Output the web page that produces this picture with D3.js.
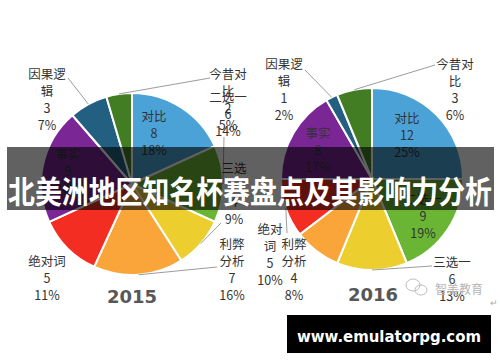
<!DOCTYPE html>
<html>
<head>
<meta charset="utf-8">
<script src="https://cdn.jsdelivr.net/npm/d3@7"></script>
<style>
  html, body { margin: 0; padding: 0; background: #fff; }
</style>
</head>
<body>
<div id="chart"></div>
<script>
// Data
const categories = ['对比', '二选一', '三选一', '利弊分析', '绝对词', '事实', '因果逻辑', '今昔对比'];
const values2015 = [8, 6, 4, 7, 5, 9, 3, 2];
const values2016 = [12, 9, 6, 4, 5, 8, 1, 3];
const years = ['2015', '2016'];
const sliceColors = ['#4ba2d6', '#6ab634', '#eccf2f', '#faa53a', '#f42d22', '#7a2795', '#225f80', '#427d24'];
const title = '北美洲地区知名杯赛盘点及其影响力分析';
const footer = 'www.emulatorpg.com';

// Layout of each pie: center, label spots (x, first line y, chars per line), leader anchors
const pies = [
    {
        year: years[0], values: values2015, cx: 132, cy: 184,
        labels: [
            [154, 115, 2], [228, 96, 3], [234, 167, 2], [232, 243, 2],
            [47, 260, 3], [68, 153, 2], [47, 73, 3], [228, 73, 3]
        ],
        leaders: [null, [224, 137], [221, 223], [217, 267], null, null, [68, 78], [210, 78]],
        yearPos: [132, 296]
    },
    {
        year: years[1], values: values2016, cx: 372, cy: 179,
        labels: [
            [407, 117, 2], [423, 198, 3], [452, 261, 3], [294, 243, 2],
            [270, 228, 2], [318, 132, 2], [284, 63, 3], [455, 63, 3]
        ],
        leaders: [null, null, [432, 266], null, [287, 233], null, [305, 70], [435, 65]],
        yearPos: [373, 294]
    }
];

const W = 500, H = 362, R = 91, lineH = 17;
const labelFont = '"Noto Sans CJK SC", "Noto Sans", sans-serif';

const svg = d3.select('#chart')
    .append('svg')
    .attr('width', W)
    .attr('height', H);

const color = d3.scaleOrdinal().domain(categories).range(sliceColors);
const pie = d3.pie().sort(null).value(d => d.value);
const arc = d3.arc().innerRadius(0).outerRadius(R);
const edge = d3.arc().innerRadius(R).outerRadius(R);

pies.forEach(p => {
    const data = categories.map((c, i) => ({ name: c, value: p.values[i] }));
    const total = d3.sum(p.values);
    const arcs = pie(data);

    const g = svg.append('g').attr('transform', `translate(${p.cx},${p.cy})`);

    // Slices
    g.selectAll('path')
        .data(arcs)
        .enter()
        .append('path')
        .attr('d', arc)
        .attr('fill', d => color(d.data.name))
        .attr('stroke', '#fff')
        .attr('stroke-width', 2);

    // Leader lines
    arcs.forEach((a, i) => {
        const anchor = p.leaders[i];
        if (!anchor) return;
        const [ex, ey] = edge.centroid(a);
        svg.append('line')
            .attr('x1', p.cx + ex).attr('y1', p.cy + ey)
            .attr('x2', anchor[0]).attr('y2', anchor[1])
            .attr('stroke', '#9c9c9c')
            .attr('stroke-width', 1);
    });

    // Data labels
    arcs.forEach((a, i) => {
        const [lx, ly, chunk] = p.labels[i];
        const name = a.data.name;
        const lines = [];
        for (let k = 0; k < name.length; k += chunk) lines.push(name.slice(k, k + chunk));
        lines.push(String(a.data.value));
        lines.push(Math.round(a.data.value / total * 100) + '%');

        const t = svg.append('text')
            .attr('font-family', labelFont)
            .attr('font-size', '12.5px')
            .attr('fill', '#333')
            .attr('text-anchor', 'middle');
        t.selectAll('tspan')
            .data(lines)
            .enter()
            .append('tspan')
            .attr('x', lx)
            .attr('y', (d, k) => ly + k * lineH)
            .attr('dominant-baseline', 'central')
            .text(d => d);
    });

    // Year caption
    svg.append('text')
        .attr('x', p.yearPos[0])
        .attr('y', p.yearPos[1])
        .attr('text-anchor', 'middle')
        .attr('dominant-baseline', 'central')
        .attr('font-family', '"DejaVu Sans", sans-serif')
        .attr('font-weight', 'bold')
        .attr('font-size', '18px')
        .attr('fill', '#575757')
        .text(p.year);
});

// Watermark
const wm = svg.append('g').attr('fill', 'none').attr('stroke', '#bdbdbd').attr('stroke-width', 1);
wm.append('ellipse').attr('cx', 413).attr('cy', 285).attr('rx', 7).attr('ry', 6);
wm.append('ellipse').attr('cx', 421).attr('cy', 290).attr('rx', 6).attr('ry', 5);
svg.append('text')
    .attr('x', 459).attr('y', 288)
    .attr('text-anchor', 'middle')
    .attr('dominant-baseline', 'central')
    .attr('font-family', labelFont)
    .attr('font-size', '12px')
    .attr('fill', '#b5b5b5')
    .text('智美教育');
svg.append('text')
    .attr('x', 494).attr('y', 302)
    .attr('text-anchor', 'middle')
    .attr('dominant-baseline', 'central')
    .attr('font-family', labelFont)
    .attr('font-size', '9px')
    .attr('fill', '#aaa')
    .text('↵');

// Title banner
svg.append('rect')
    .attr('x', 7).attr('y', 147)
    .attr('width', 487).attr('height', 63)
    .attr('fill', 'rgba(0,0,0,0.62)');

svg.append('text')
    .attr('x', 250).attr('y', 189)
    .attr('text-anchor', 'middle')
    .attr('dominant-baseline', 'central')
    .attr('font-family', labelFont)
    .attr('font-weight', 'bold')
    .attr('font-size', '31px')
    .attr('fill', '#fff')
    .attr('textLength', 484)
    .attr('lengthAdjust', 'spacingAndGlyphs')
    .text(title);

// Footer box
svg.append('rect')
    .attr('x', 287).attr('y', 315)
    .attr('width', 204).attr('height', 38)
    .attr('fill', '#000');

svg.append('text')
    .attr('x', 389).attr('y', 336)
    .attr('text-anchor', 'middle')
    .attr('dominant-baseline', 'central')
    .attr('font-family', '"DejaVu Sans", sans-serif')
    .attr('font-weight', 'bold')
    .attr('font-size', '16px')
    .attr('fill', '#fff')
    .attr('textLength', 184)
    .attr('lengthAdjust', 'spacingAndGlyphs')
    .text(footer);
</script>
</body>
</html>
